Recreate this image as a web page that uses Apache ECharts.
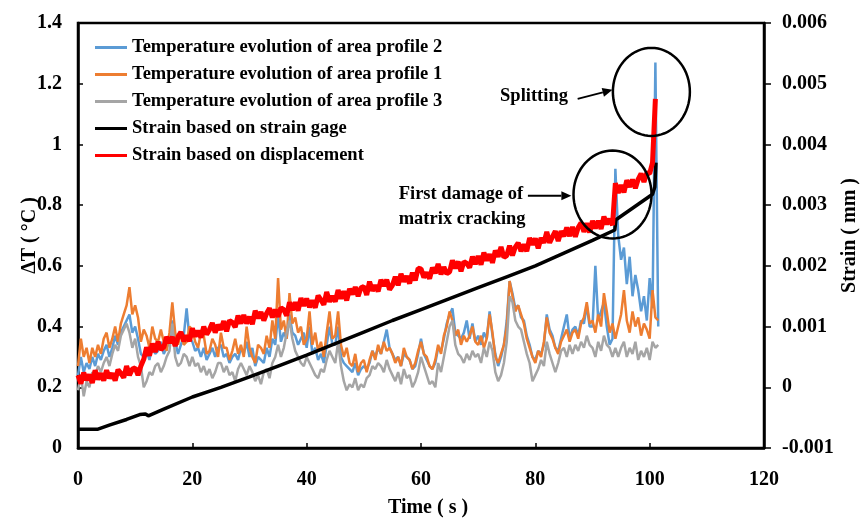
<!DOCTYPE html>
<html><head><meta charset="utf-8">
<script src="https://cdn.jsdelivr.net/npm/echarts@6/dist/echarts.min.js"></script>
<style>html,body{margin:0;padding:0;background:#fff}#c{width:861px;height:522px}</style>
</head><body><div id="c"></div>
<script>
// ---------- DATA ----------
const SAMPLE_STEP = 0.5; // s, sampling interval of the temperature / displacement records
const seriesNames = [
  'Temperature evolution of area profile 2',
  'Temperature evolution of area profile 1',
  'Temperature evolution of area profile 3',
  'Strain based on strain gage',
  'Strain based on displacement'
];
// ΔT (°C), one value per 0.5 s starting at t = 0
const tempProfile2 = [
  0.24,0.30,0.25,0.28,0.26,0.30,0.27,0.31,0.29,0.32,
  0.34,0.30,0.33,0.37,0.34,0.38,0.40,0.42,0.44,0.38,
  0.40,0.36,0.31,0.30,0.32,0.29,0.34,0.31,0.32,0.35,
  0.31,0.33,0.35,0.42,0.35,0.31,0.34,0.37,0.46,0.36,
  0.35,0.32,0.33,0.30,0.33,0.29,0.31,0.33,0.30,0.33,
  0.34,0.30,0.31,0.28,0.30,0.31,0.29,0.33,0.31,0.35,
  0.30,0.33,0.27,0.30,0.29,0.28,0.33,0.30,0.36,0.34,
  0.44,0.35,0.38,0.36,0.44,0.38,0.37,0.34,0.36,0.38,
  0.33,0.40,0.31,0.33,0.29,0.31,0.28,0.34,0.40,0.34,
  0.34,0.40,0.30,0.28,0.27,0.26,0.25,0.28,0.24,0.26,
  0.27,0.26,0.28,0.32,0.30,0.33,0.31,0.35,0.39,0.33,
  0.31,0.29,0.30,0.27,0.31,0.30,0.29,0.26,0.27,0.31,
  0.36,0.31,0.29,0.27,0.26,0.28,0.33,0.32,0.36,0.41,
  0.44,0.46,0.38,0.37,0.36,0.38,0.42,0.36,0.41,0.35,
  0.37,0.34,0.38,0.36,0.45,0.37,0.31,0.27,0.30,0.34,
  0.42,0.55,0.51,0.46,0.47,0.43,0.42,0.37,0.34,0.30,
  0.29,0.32,0.31,0.34,0.44,0.39,0.37,0.33,0.32,0.36,
  0.40,0.44,0.36,0.39,0.40,0.37,0.42,0.41,0.47,0.40,
  0.40,0.60,0.42,0.45,0.48,0.40,0.34,0.36,0.92,0.70,
  0.62,0.66,0.54,0.63,0.50,0.57,0.52,0.45,0.50,0.42,
  0.56,0.46,1.27,0.40
];
const tempProfile1 = [
  0.27,0.36,0.30,0.33,0.28,0.33,0.30,0.34,0.31,0.36,
  0.38,0.33,0.36,0.40,0.35,0.41,0.44,0.47,0.53,0.44,
  0.47,0.43,0.35,0.39,0.37,0.33,0.40,0.36,0.35,0.39,
  0.35,0.32,0.38,0.48,0.38,0.34,0.38,0.34,0.35,0.40,
  0.39,0.35,0.33,0.38,0.37,0.31,0.32,0.36,0.34,0.30,
  0.38,0.33,0.33,0.29,0.32,0.36,0.31,0.34,0.30,0.40,
  0.33,0.30,0.28,0.34,0.33,0.31,0.37,0.33,0.42,0.36,
  0.56,0.39,0.42,0.36,0.51,0.41,0.43,0.38,0.40,0.34,
  0.36,0.45,0.34,0.38,0.32,0.35,0.30,0.38,0.45,0.36,
  0.37,0.45,0.34,0.30,0.33,0.28,0.27,0.31,0.25,0.28,
  0.29,0.25,0.29,0.32,0.29,0.34,0.31,0.35,0.32,0.33,
  0.31,0.28,0.30,0.27,0.33,0.30,0.29,0.26,0.28,0.32,
  0.35,0.31,0.30,0.27,0.26,0.29,0.34,0.31,0.37,0.40,
  0.45,0.42,0.37,0.39,0.34,0.37,0.35,0.37,0.40,0.35,
  0.34,0.37,0.33,0.36,0.44,0.38,0.30,0.28,0.31,0.34,
  0.40,0.55,0.50,0.45,0.47,0.44,0.41,0.36,0.33,0.30,
  0.28,0.32,0.30,0.35,0.43,0.38,0.36,0.33,0.31,0.35,
  0.37,0.39,0.35,0.38,0.39,0.36,0.41,0.43,0.48,0.41,
  0.42,0.38,0.44,0.40,0.51,0.45,0.38,0.41,0.36,0.40,
  0.44,0.52,0.42,0.38,0.45,0.40,0.43,0.37,0.41,0.39,
  0.36,0.52,0.43,0.42
];
const tempProfile3 = [
  0.19,0.24,0.17,0.22,0.20,0.25,0.24,0.27,0.25,0.28,
  0.30,0.27,0.31,0.34,0.32,0.37,0.39,0.41,0.38,0.33,
  0.36,0.30,0.27,0.20,0.22,0.25,0.24,0.27,0.28,0.25,
  0.27,0.30,0.32,0.41,0.30,0.27,0.28,0.31,0.30,0.27,
  0.30,0.27,0.28,0.25,0.27,0.24,0.26,0.23,0.25,0.28,
  0.28,0.25,0.27,0.24,0.25,0.22,0.26,0.28,0.26,0.24,
  0.27,0.25,0.22,0.24,0.21,0.25,0.26,0.23,0.28,0.30,
  0.34,0.30,0.33,0.38,0.42,0.36,0.32,0.30,0.28,0.27,
  0.30,0.28,0.26,0.24,0.23,0.26,0.25,0.29,0.32,0.30,
  0.28,0.35,0.27,0.22,0.19,0.21,0.20,0.23,0.19,0.21,
  0.20,0.23,0.24,0.27,0.26,0.28,0.27,0.25,0.29,0.26,
  0.24,0.22,0.25,0.21,0.26,0.23,0.24,0.20,0.22,0.25,
  0.30,0.27,0.24,0.21,0.22,0.20,0.28,0.25,0.30,0.35,
  0.40,0.42,0.34,0.31,0.30,0.28,0.31,0.29,0.32,0.30,
  0.31,0.28,0.33,0.30,0.35,0.32,0.25,0.22,0.24,0.28,
  0.35,0.50,0.48,0.42,0.40,0.39,0.35,0.31,0.28,0.22,
  0.24,0.26,0.29,0.27,0.35,0.31,0.28,0.25,0.28,0.32,
  0.33,0.30,0.34,0.31,0.34,0.32,0.35,0.33,0.37,0.34,
  0.33,0.30,0.35,0.32,0.37,0.34,0.33,0.30,0.33,0.30,
  0.33,0.35,0.30,0.33,0.31,0.35,0.29,0.32,0.30,0.33,
  0.29,0.35,0.33,0.34
];
// Strain (mm) from displacement, one value per 0.5 s starting at t = 0
const strainDisplacement = [
  0.00020,0.00006,0.00024,0.00012,0.00021,0.00007,0.00028,0.00013,0.00023,0.00011,
  0.00028,0.00015,0.00023,0.00011,0.00029,0.00023,0.00016,0.00035,0.00020,0.00030,
  0.00032,0.00020,0.00035,0.00046,0.00066,0.00052,0.00072,0.00058,0.00075,0.00062,
  0.00066,0.00083,0.00073,0.00083,0.00068,0.00083,0.00091,0.00076,0.00085,0.00076,
  0.00097,0.00084,0.00093,0.00082,0.00100,0.00087,0.00095,0.00106,0.00090,0.00103,
  0.00095,0.00109,0.00092,0.00110,0.00107,0.00099,0.00118,0.00105,0.00119,0.00105,
  0.00116,0.00104,0.00126,0.00114,0.00124,0.00110,0.00122,0.00130,0.00115,0.00128,
  0.00116,0.00131,0.00128,0.00118,0.00140,0.00127,0.00140,0.00126,0.00147,0.00134,
  0.00146,0.00132,0.00143,0.00131,0.00151,0.00144,0.00136,0.00157,0.00141,0.00150,
  0.00141,0.00160,0.00146,0.00158,0.00143,0.00162,0.00153,0.00165,0.00150,0.00164,
  0.00166,0.00152,0.00174,0.00159,0.00168,0.00158,0.00177,0.00167,0.00177,0.00161,
  0.00168,0.00182,0.00168,0.00187,0.00174,0.00183,0.00171,0.00189,0.00176,0.00196,
  0.00195,0.00181,0.00189,0.00179,0.00197,0.00188,0.00203,0.00186,0.00198,0.00187,
  0.00190,0.00209,0.00196,0.00207,0.00191,0.00207,0.00204,0.00197,0.00215,0.00203,
  0.00216,0.00202,0.00222,0.00209,0.00219,0.00205,0.00225,0.00215,0.00231,0.00214,
  0.00217,0.00233,0.00217,0.00231,0.00238,0.00224,0.00235,0.00224,0.00246,0.00235,
  0.00245,0.00229,0.00246,0.00238,0.00256,0.00238,0.00248,0.00257,0.00241,0.00257,
  0.00249,0.00263,0.00249,0.00264,0.00248,0.00263,0.00271,0.00256,0.00270,0.00255,
  0.00274,0.00262,0.00274,0.00261,0.00281,0.00269,0.00277,0.00267,0.00336,0.00320,
  0.00333,0.00321,0.00341,0.00330,0.00342,0.00328,0.00343,0.00352,0.00338,0.00353,
  0.00352,0.00370,0.00475
];
// Strain gage record (irregular time stamps)
const gageTime   = [0, 3.5, 5.6, 8.5, 10.8, 11.8, 12.3, 15, 20, 25, 30, 35, 40, 45, 50, 55, 60, 65, 70, 75, 80, 85, 90, 93.9, 94.1, 100.5, 100.9, 101.1];
const gageStrain = [-0.00069,-0.00069,-0.00062,-0.00053,-0.00045,-0.00044,-0.00047,-0.00036,-0.00016,0.00000,0.00017,0.00035,0.00053,0.00072,0.00091,0.00110,0.00128,0.00146,0.00164,0.00182,0.00200,0.00221,0.00242,0.00259,0.00276,0.00318,0.00330,0.00370];

// axis settings
const xAxisRange = {min: 0, max: 120, interval: 20};
const yLeftRange = {min: 0, max: 1.4, interval: 0.2};
const yRightRange = {min: -0.001, max: 0.006, interval: 0.001};

// annotations (anchored in time / ΔT coordinates)
const annotations = {
  splitting: {label: 'Splitting', textAt: [85.7, 1.16], arrowFrom: [87.4, 1.150], arrowTo: [93.5, 1.180], ellipse: [100.3, 1.173]},
  damage: {label: ['First damage of', 'matrix cracking'], textAt: [56.1, 0.877], arrowFrom: [78.7, 0.831], arrowTo: [86.3, 0.831], ellipse: [93.5, 0.835]}
};

// ---------- CHART ----------
const FONT = '"Liberation Serif","Times New Roman",serif';
const colors = ['#5B9BD5', '#ED7D31', '#A5A5A5', '#000000', '#FF0000'];
const toPairs = vals => vals.map((v, i) => [i * SAMPLE_STEP, v]);

const chart = echarts.init(document.getElementById('c'), null, {renderer: 'canvas'});
const labelStyle = {fontFamily: FONT, fontWeight: 'bold', fontSize: 20, color: '#000'};
const fmt = v => String(parseFloat(Number(v).toFixed(4)));

const option = {
  animation: false,
  backgroundColor: '#fff',
  color: colors,
  grid: {left: 78, right: 97, top: 23, bottom: 74, show: true, borderColor: '#000', borderWidth: 2.5, containLabel: false, outerBoundsMode: 'none'},
  legend: {
    orient: 'vertical', left: 90, top: 33, itemGap: 8, itemWidth: 32, itemHeight: 3, icon: 'rect',
    data: seriesNames,
    textStyle: {fontFamily: FONT, fontWeight: 'bold', fontSize: 18.5, color: '#000', lineHeight: 18}
  },
  xAxis: {
    type: 'value', ...xAxisRange,
    name: 'Time ( s )', nameLocation: 'middle', nameGap: 50, nameMoveOverlap: false,
    nameTextStyle: Object.assign({}, labelStyle, {padding: [0, 0, 0, 14]}),
    axisLine: {show: true, onZero: false, lineStyle: {color: '#000', width: 2.5}},
    axisTick: {show: true, inside: true, length: 5, lineStyle: {color: '#000', width: 1.5}},
    axisLabel: Object.assign({}, labelStyle, {margin: 22}),
    splitLine: {show: false}
  },
  yAxis: [{
    type: 'value', ...yLeftRange, position: 'left',
    name: 'ΔT ( °C )', nameLocation: 'middle', nameGap: 38, nameMoveOverlap: false, nameTextStyle: labelStyle,
    axisLine: {show: true, lineStyle: {color: '#000', width: 2.5}},
    axisTick: {show: true, inside: true, length: 5, lineStyle: {color: '#000', width: 1.5}},
    axisLabel: Object.assign({}, labelStyle, {margin: 16, formatter: fmt}),
    splitLine: {show: false}
  }, {
    type: 'value', ...yRightRange, position: 'right',
    name: 'Strain ( mm )', nameLocation: 'middle', nameGap: 76, nameMoveOverlap: false, nameTextStyle: labelStyle,
    axisLine: {show: true, lineStyle: {color: '#000', width: 2.5}},
    axisTick: {show: true, inside: false, length: 7, lineStyle: {color: '#000', width: 1.5}},
    axisLabel: Object.assign({}, labelStyle, {margin: 18, formatter: fmt}),
    splitLine: {show: false}
  }],
  series: [
    {name: seriesNames[0], type: 'line', yAxisIndex: 0, data: toPairs(tempProfile2), showSymbol: false, symbol: 'none', lineStyle: {width: 2.5, color: colors[0]}},
    {name: seriesNames[1], type: 'line', yAxisIndex: 0, data: toPairs(tempProfile1), showSymbol: false, symbol: 'none', lineStyle: {width: 2.5, color: colors[1]}},
    {name: seriesNames[2], type: 'line', yAxisIndex: 0, data: toPairs(tempProfile3), showSymbol: false, symbol: 'none', lineStyle: {width: 2.5, color: colors[2]}},
    {name: seriesNames[3], type: 'line', yAxisIndex: 1, data: gageTime.map((t, i) => [t, gageStrain[i]]), showSymbol: false, symbol: 'none', lineStyle: {width: 3.5, color: colors[3]}},
    {name: seriesNames[4], type: 'line', yAxisIndex: 1, data: toPairs(strainDisplacement), showSymbol: false, symbol: 'none', lineStyle: {width: 5, color: colors[4]}}
  ]
};
chart.setOption(option);

// ---------- ANNOTATIONS ----------
const P = (pt) => chart.convertToPixel({xAxisIndex: 0, yAxisIndex: 0}, pt);
function ellipse(center, rx, ry) {
  const c = P(center), pts = [];
  for (let k = 0; k < 72; k++) {
    const a = k / 72 * Math.PI * 2;
    pts.push([c[0] + rx * Math.cos(a), c[1] + ry * Math.sin(a)]);
  }
  return {type: 'polygon', shape: {points: pts}, style: {fill: 'none', stroke: '#000', lineWidth: 2.5}, z: 100};
}
function arrow(from, to) {
  const a = P(from), b = P(to);
  const dx = b[0] - a[0], dy = b[1] - a[1], L = Math.hypot(dx, dy), ux = dx / L, uy = dy / L;
  const hl = 10, hw = 4.5;
  const base = [b[0] - ux * hl, b[1] - uy * hl];
  return [
    {type: 'line', shape: {x1: a[0], y1: a[1], x2: base[0], y2: base[1]}, style: {stroke: '#000', lineWidth: 1.8}, z: 100},
    {type: 'polygon', shape: {points: [b, [base[0] - uy * hw, base[1] + ux * hw], [base[0] + uy * hw, base[1] - ux * hw]]}, style: {fill: '#000'}, z: 100}
  ];
}
const annStyle = {fontFamily: FONT, fontWeight: 'bold', fontSize: 18.5, fill: '#000'};
const sp = P(annotations.splitting.textAt), dp = P(annotations.damage.textAt);
const graphics = [
  ellipse(annotations.splitting.ellipse, 38.5, 44),
  ellipse(annotations.damage.ellipse, 39, 44),
  ...arrow(annotations.splitting.arrowFrom, annotations.splitting.arrowTo),
  ...arrow(annotations.damage.arrowFrom, annotations.damage.arrowTo),
  {type: 'text', x: sp[0], y: sp[1], z: 100, style: Object.assign({text: annotations.splitting.label, textAlign: 'right', textVerticalAlign: 'middle'}, annStyle)},
  {type: 'text', x: dp[0], y: dp[1], z: 100, style: Object.assign({text: annotations.damage.label.join('\n'), textAlign: 'left', textVerticalAlign: 'top', lineHeight: 25}, annStyle)}
];
chart.setOption({graphic: graphics});
</script>
</body></html>
